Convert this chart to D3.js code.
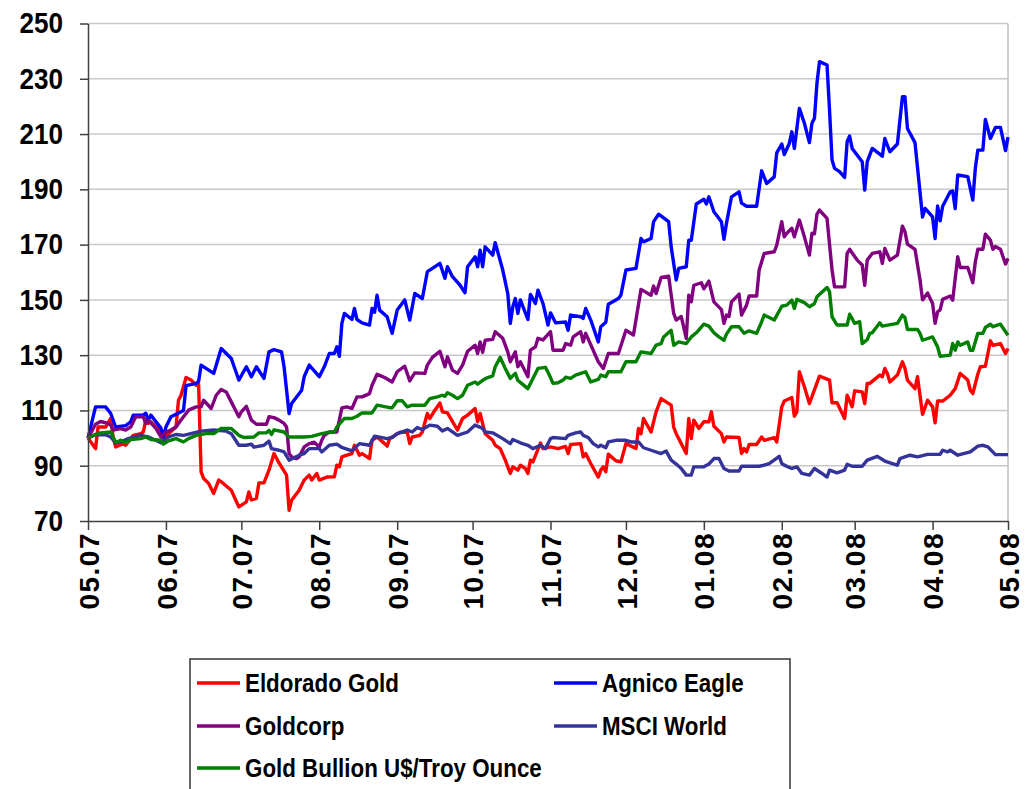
<!DOCTYPE html>
<html>
<head>
<meta charset="utf-8">
<style>
body { margin: 0; background: #fff; }
svg { display: block; font-family: "Liberation Sans", Arial, sans-serif; font-weight: bold; }
.grid line { stroke: #c8c8c8; stroke-width: 1.5px; }
.axis path, .axis line { stroke: #404040; stroke-width: 1.5px; }
.line { fill: none; stroke-width: 3.4px; stroke-linejoin: round; }
</style>
</head>
<body>
<script src="https://d3js.org/d3.v7.min.js"></script>
<script>

// series: [days since 01.05.2007, index value]
var eldoradoGold = [[0,100],[3,96.2],[4,104],[7,104],[9,107.1],[10,100.4],[11,96.8],[14,98],[15,97.4],[18,101],[21,101.6],[22,102.2],[23,106.5],[24,105.3],[25,105.9],[27,104],[29,102.2],[30,99.8],[32,101.6],[35,104],[36,113.7],[37,115.5],[39,121.9],[41,121],[43,119.1],[44,119.6],[45,87.8],[46,85.4],[48,83.6],[50,80],[52,84.8],[53,84.2],[57,81.1],[60,75.1],[63,76.9],[64,80.5],[65,77.6],[67,78.2],[68,83.8],[70,83.8],[72,88.4],[74,94.4],[76,91],[79,86.6],[80,73.9],[81,77.5],[84,81.1],[86,84.8],[88,86.6],[89,84.8],[91,87.2],[92,84.8],[95,85.9],[98,86],[99,90.2],[100,89.6],[101,93.2],[103,93.8],[105,94.4],[106,97.4],[108,93.8],[109,94.4],[112,92.6],[113,99.2],[115,100.4],[118,98],[119,97.1],[120,99.8],[122,101],[124,102],[127,102.2],[128,98],[129,100.4],[132,101],[133,102.2],[135,108.9],[136,107.1],[138,110.1],[140,112.7],[141,109.5],[143,109.1],[147,102.9],[149,107.1],[151,108.3],[154,110.7],[155,105.9],[156,108.9],[158,101.6],[161,99.2],[162,97.4],[164,96.2],[166,92],[168,87.2],[169,89.6],[171,88.4],[172,90.2],[174,89],[175,87.2],[176,92],[177,91.4],[180,98.2],[181,96.2],[184,96.8],[187,96.2],[190,97],[191,94.4],[192,97.7],[196,98],[197,93.2],[198,94.4],[200,90.8],[203,85.9],[204,88.4],[205,89.6],[206,87.8],[207,94.2],[210,91.8],[212,91.4],[214,98],[218,96.2],[219,103.5],[220,101.6],[221,107.1],[224,102.2],[226,109.5],[228,114.3],[232,111.9],[233,104],[234,101.6],[235,99.8],[238,94.4],[239,107.1],[240,99.8],[241,106.5],[243,103.5],[245,105.9],[247,105.9],[248,109.5],[249,104.3],[252,101.6],[253,98.6],[254,100.4],[259,100.2],[260,94.4],[261,96.2],[262,95],[263,97.7],[266,97.7],[268,100.4],[269,99.2],[273,100.2],[274,98.6],[276,111.3],[277,113.4],[280,114.7],[281,107.9],[282,109.5],[283,124],[285,118.6],[287,112.5],[291,122.4],[295,121],[296,112.8],[298,112.8],[301,107.1],[302,115.5],[304,111.3],[305,117.1],[308,116.7],[309,112.5],[310,119.8],[311,119.8],[315,122.8],[316,122.2],[317,125.2],[318,123.4],[319,120.3],[322,122.8],[324,127.6],[325,125.2],[326,121],[329,117.9],[330,122.2],[332,108.6],[334,113.7],[336,111.3],[337,105.5],[338,113.4],[340,113.4],[343,115.5],[345,117.9],[347,123.4],[350,121],[351,117.3],[352,116.1],[354,123.2],[355,125.8],[357,126],[359,135.2],[360,133.6],[363,134.2],[365,130.6],[366,132.4]];

var agnicoEagle = [[0,100],[3,111.3],[7,111.3],[9,109],[11,104],[15,104.5],[17,105.9],[18,108.3],[22,108.3],[23,109],[24,106.5],[25,108.3],[29,103.6],[30,100.4],[31,104],[33,107.7],[37,109.5],[38,110],[39,119],[43,119.8],[44,120.5],[45,126.4],[50,123.4],[53,132.4],[57,128.8],[60,121],[63,125.8],[65,122.2],[67,125.8],[70,121.6],[72,131.2],[74,132],[77,131.2],[78,125.8],[80,108.9],[81,112.5],[85,117.3],[86,122.2],[88,126.4],[92,122.2],[94,125.8],[96,130.6],[98,130.6],[99,133],[100,129.6],[101,141.5],[102,145.1],[105,142.9],[106,146.9],[107,142.9],[109,141.7],[112,140.9],[113,146.9],[114,145.5],[115,151.7],[116,146.3],[119,143.9],[121,137.9],[123,146.3],[126,150],[128,142.7],[130,152.3],[133,150.5],[135,160.2],[137,161.4],[140,163.2],[142,157.8],[143,162],[145,158.4],[148,155.3],[150,152.6],[151,162],[154,165.6],[155,162],[156,168],[157,162],[158,169.2],[161,166.2],[162,170.7],[165,160.8],[167,152.3],[168,141.5],[169,147.5],[170,150.5],[171,145.1],[172,150],[175,142.9],[176,152],[178,148.7],[179,153.5],[181,148.7],[183,140.9],[184,145.3],[186,141.7],[190,142],[191,139],[192,144.5],[196,143.9],[197,143.3],[198,146.9],[200,142.7],[203,134.8],[204,140.3],[206,141.9],[207,148.4],[211,150.5],[212,151.7],[214,160.8],[218,161.4],[220,172.2],[221,171],[224,172.2],[225,178.3],[227,181],[231,178.3],[232,169.2],[234,157.2],[235,161.4],[238,162],[239,171.6],[240,171.6],[242,184.7],[245,186.4],[246,184.7],[247,187.3],[249,181.9],[252,178.3],[253,171.9],[254,177.7],[256,187.3],[259,189.1],[260,185],[262,183.9],[266,183.9],[268,196.7],[270,192.1],[273,194.5],[274,203.2],[276,206.4],[277,202.6],[279,206.6],[280,210.8],[281,204.8],[283,219.3],[285,213.9],[287,206.9],[288,213.9],[289,215.7],[290,228.4],[291,236.2],[294,235],[295,218.7],[296,200.6],[297,197.6],[299,196.4],[301,194.3],[302,207.2],[303,209.3],[304,204.8],[308,200],[309,189.7],[310,200],[312,204.8],[316,202],[317,208.4],[319,203.6],[322,206.4],[324,223.5],[325,223.5],[326,212],[329,206.9],[332,180],[333,183.1],[336,180],[337,172.2],[338,184],[339,178.6],[340,183.9],[343,189.1],[344,189.4],[345,183],[346,195.2],[350,194.6],[352,186.1],[353,197.6],[354,204.2],[356,204.2],[357,215.3],[359,208.4],[361,212.4],[363,212.4],[365,204],[366,208.9]];

var goldcorp = [[0,100],[3,105],[5,106],[8,105.3],[9,104.7],[10,102.9],[13,103.4],[15,102.9],[17,104],[19,107.7],[22,107.7],[23,105.3],[24,106.5],[27,103.5],[29,100.4],[31,102.2],[33,102.9],[35,104],[37,106.5],[40,110.1],[43,111.3],[45,111.3],[46,113.7],[49,110.7],[51,115.5],[53,117.6],[55,116.7],[57,113.1],[60,107.7],[61,109.5],[63,111.5],[65,106.5],[67,105],[71,105],[72,107.7],[74,107.4],[76,106.5],[78,105.3],[79,104],[80,94.4],[81,93.2],[83,92.6],[84,93.2],[86,96.8],[88,98],[90,98.5],[92,96.8],[93,99.2],[94,101],[96,102.2],[99,102.2],[101,110.9],[103,111.3],[105,110.7],[107,114.9],[109,114.9],[112,116.1],[113,119.1],[115,123.1],[116,122.7],[118,121.9],[121,120.3],[123,124],[126,126],[128,120.7],[130,123.6],[134,123.4],[135,126.4],[137,129.2],[140,131.4],[142,125.8],[143,129.4],[145,124.6],[147,123.4],[149,126.4],[151,131.4],[154,133.6],[155,130.6],[156,134.8],[157,131],[158,135.4],[161,135.7],[162,138.5],[165,136.1],[167,131.2],[168,127.6],[170,131.2],[171,125.8],[172,127.6],[175,122.2],[176,131.8],[178,133],[179,136.1],[181,135.5],[184,138.5],[185,131.8],[189,131.8],[190,134.2],[192,133.6],[193,136.6],[196,138.5],[197,134.8],[198,137.9],[203,127.6],[205,125.2],[207,130.6],[211,130.6],[214,139],[217,137.3],[220,153.8],[224,151.7],[225,155],[226,152.3],[228,158.1],[231,158.6],[233,145.1],[234,142.7],[236,144],[238,136.1],[239,151.7],[240,149.3],[241,155.3],[244,156.2],[245,154],[247,156.8],[249,149.3],[252,146.5],[253,141.5],[254,144.5],[255,144],[256,149.3],[259,152.1],[260,144.5],[262,148.1],[263,151.4],[266,151.4],[267,160.8],[269,166.8],[273,167.4],[274,169.8],[276,178.3],[277,172.8],[278,174.1],[280,175.9],[281,172.8],[283,178.9],[285,172.8],[287,166.2],[288,174.1],[289,173.9],[290,181],[291,182.5],[294,179.5],[296,160.8],[297,154.7],[301,154.7],[302,166.8],[303,168.3],[306,164.4],[308,162.6],[309,155.3],[310,164.4],[312,166.8],[315,167.4],[316,163.2],[317,168.6],[319,164.4],[322,166.2],[324,176.7],[325,174.7],[326,170.2],[329,168.3],[331,157.2],[332,150],[334,152.5],[336,148.7],[337,141.5],[338,145.7],[339,146.4],[340,150.2],[343,151.4],[344,149.9],[346,165.6],[347,161.7],[350,161.7],[352,156.2],[353,163.8],[354,168.3],[356,168.3],[357,173.8],[359,171.6],[360,168.3],[361,169.3],[363,168.3],[365,163],[366,165]];

var msciWorld = [[0,100],[3,101.3],[7,101.2],[9,100.4],[11,98.3],[13,98.6],[16,99.8],[21,101],[24,100.4],[27,99.2],[29,98.3],[32,100.4],[35,101.3],[38,101],[45,102.5],[50,102.9],[55,102.5],[57,101.6],[60,97.4],[63,97.4],[65,97.8],[66,96.7],[70,97.4],[72,98.9],[73,96.2],[76,95.6],[78,95],[80,92],[84,93.8],[86,94.4],[88,96.2],[92,96.2],[93,95],[96,97.4],[99,97.8],[101,96.6],[105,95.4],[108,98],[112,97.4],[114,100.7],[119,99.8],[121,100.2],[123,101.6],[127,102.9],[129,102.2],[131,103.8],[133,103.1],[136,104.7],[139,104.3],[141,102.6],[143,103.5],[147,101],[151,102.2],[154,104.7],[157,103.5],[158,102.2],[161,101.9],[165,99.8],[168,98],[169,99.5],[172,98.3],[175,97.4],[177,96.2],[180,97.4],[182,96.2],[184,99.8],[185,100.2],[190,99.8],[191,101],[194,101.9],[196,102.2],[197,101],[199,100.2],[201,98],[203,96.8],[204,97.4],[206,96.5],[207,98.6],[210,99.2],[214,99.2],[216,98.6],[219,98.6],[221,96.5],[224,95.6],[228,94.4],[230,95.3],[232,92],[234,90.6],[236,89],[238,86.6],[240,86.6],[241,89.6],[245,89.6],[247,90.6],[249,92.6],[251,92.6],[253,89],[255,88.1],[259,88.1],[260,89.8],[267,89.8],[269,90.2],[271,90.8],[275,93.4],[276,90.8],[277,90.2],[280,89],[282,89.6],[284,87.2],[287,86.6],[289,89],[292,87.2],[294,85.9],[295,88.4],[298,87.4],[301,88.4],[302,90.5],[304,89.8],[308,89.8],[310,92],[314,93.4],[317,91.7],[320,90.8],[322,90.2],[323,92.6],[327,93.8],[330,93.2],[334,94.1],[339,94.1],[340,95.6],[342,95],[343,95.6],[346,93.8],[351,95],[354,97.1],[356,97.4],[358,96.8],[361,94],[366,94]];

var goldBullion = [[0,100],[3,101.3],[5,101.9],[9,102.2],[11,98.5],[13,99.2],[15,98.3],[17,99.5],[21,99.8],[23,100.4],[25,99.5],[29,99.2],[30,97.8],[32,99],[35,99.8],[38,98.6],[40,99.8],[43,101],[47,101.6],[50,101.6],[53,103.5],[57,103.5],[60,101],[62,100.2],[66,100.4],[68,101.9],[71,101.9],[72,102.8],[73,101.3],[74,103],[78,102.2],[80,100.4],[86,100.4],[89,100.6],[93,101.6],[95,102],[98,102.2],[99,104],[102,107.1],[105,107.1],[107,107.9],[109,109.1],[113,109.1],[115,111.9],[120,111],[121,111],[123,113.5],[125,113.5],[127,111.3],[129,111.9],[134,111.9],[136,114.3],[139,114.9],[141,115.5],[142,115.1],[143,116.4],[145,115.5],[147,114.3],[149,115.5],[151,119.1],[154,120.3],[155,119.5],[157,120.9],[159,121.9],[161,122.5],[162,125.8],[164,129.2],[166,125.2],[168,121.6],[170,123.4],[171,120.9],[175,117.9],[177,121.6],[179,125.2],[182,125.6],[184,121.9],[185,119.8],[187,120],[189,121],[190,122],[192,121.6],[194,122.8],[196,123.4],[198,124],[200,120.3],[203,121.2],[204,122.8],[206,122.2],[207,124],[212,124],[214,127.6],[218,127.6],[220,131.2],[224,130.6],[226,133.6],[228,134.2],[229,136.6],[232,139],[233,133.6],[235,134.8],[238,134.2],[240,136.6],[242,138.1],[245,141.2],[247,140.5],[249,138.1],[251,136.6],[253,135.4],[254,137.6],[256,140.3],[259,140.3],[261,137.9],[263,138.8],[266,137.9],[268,142.1],[269,144.5],[273,142.7],[276,147.7],[278,148.1],[280,149.9],[281,146.9],[282,150.2],[285,149],[287,147.5],[289,148.7],[290,151.1],[294,154.5],[295,153],[296,143.9],[298,140.9],[302,140.9],[303,144.8],[305,141.5],[307,142.1],[308,134.2],[310,135.6],[311,137.9],[312,138.1],[315,141.7],[316,140.5],[322,141.5],[324,144.5],[325,143.6],[326,139.3],[330,139.3],[331,137.9],[332,135.4],[336,136.6],[338,133],[339,129.6],[343,130],[344,134.2],[345,131.8],[346,134.8],[347,133.6],[350,134.8],[351,131.8],[352,131.8],[354,137.9],[356,137.9],[357,140],[359,141.2],[360,140.3],[363,141.2],[366,137.2]];

var seriesNames = ["Eldorado Gold", "Agnico Eagle", "Goldcorp", "MSCI World", "Gold Bullion U$/Troy Ounce"];
var seriesData = [eldoradoGold, agnicoEagle, goldcorp, msciWorld, goldBullion];
var seriesColors = ["#ff0000", "#0000ff", "#800080", "#333399", "#008000"];
var yTicks = [70, 90, 110, 130, 150, 170, 190, 210, 230, 250];

var startDate = new Date(2007, 4, 1),
    endDate = new Date(2008, 4, 1);

var width = 1028, height = 789;
var plot = {left: 88, right: 1008, top: 23.5, bottom: 521};

var svg = d3.select("body").append("svg")
    .attr("width", width)
    .attr("height", height);

var x = d3.scaleTime().domain([startDate, endDate]).range([plot.left, plot.right]);
var y = d3.scaleLinear().domain([70, 250]).range([plot.bottom, plot.top]);

// gridlines
svg.append("g").attr("class", "grid")
  .selectAll("line")
  .data(yTicks.slice(1))
  .enter().append("line")
    .attr("x1", plot.left).attr("x2", plot.right)
    .attr("y1", function(d) { return y(d); })
    .attr("y2", function(d) { return y(d); });

// right border of plot area
svg.append("line")
    .attr("x1", plot.right).attr("x2", plot.right)
    .attr("y1", plot.top).attr("y2", plot.bottom)
    .style("stroke", "#c0c0c0").style("stroke-width", 1.5);

// lines
var line = d3.line()
    .x(function(d) { return x(d3.timeDay.offset(startDate, d[0])); })
    .y(function(d) { return y(d[1]); });

svg.append("g").selectAll("path")
  .data(seriesData)
  .enter().append("path")
    .attr("class", "line")
    .style("stroke", function(d, i) { return seriesColors[i]; })
    .attr("d", line);

// y axis
var yAxis = svg.append("g")
    .attr("class", "axis")
    .attr("transform", "translate(" + plot.left + ",0)")
    .call(d3.axisLeft(y).tickValues(yTicks).tickSize(8).tickSizeOuter(0));
yAxis.selectAll("text")
    .attr("x", null)
    .attr("transform", "translate(-25,0) scale(0.9,1)")
    .style("font-size", "29px")
    .style("font-weight", "bold")
    .style("font-family", "'Liberation Sans', Arial, sans-serif")
    .attr("fill", "#000");

// x axis
var xAxis = svg.append("g")
    .attr("class", "axis")
    .attr("transform", "translate(0," + plot.bottom + ")")
    .call(d3.axisBottom(x)
      .ticks(d3.timeMonth.every(1))
      .tickFormat(d3.timeFormat("%m.%y"))
      .tickSize(9).tickSizeOuter(0));
xAxis.selectAll("text")
    .attr("transform", "rotate(-90)")
    .attr("text-anchor", "end")
    .attr("x", -11)
    .attr("y", 0)
    .attr("dy", "0.36em")
    .style("font-size", "28px")
    .style("letter-spacing", "1.5px")
    .style("font-weight", "bold")
    .style("font-family", "'Liberation Sans', Arial, sans-serif")
    .attr("fill", "#000");

// legend
var legend = svg.append("g");
legend.append("rect")
    .attr("x", 190).attr("y", 659)
    .attr("width", 600).attr("height", 160)
    .style("fill", "#fff").style("stroke", "#333").style("stroke-width", 1.5);

var legendCols = [197, 554],
    legendRows = [683, 726, 768];

var item = legend.selectAll(".item")
  .data(seriesNames)
  .enter().append("g")
    .attr("transform", function(d, i) {
      return "translate(" + legendCols[i % 2] + "," + legendRows[Math.floor(i / 2)] + ")";
    });

item.append("line")
    .attr("x1", 0).attr("x2", 43)
    .style("stroke", function(d, i) { return seriesColors[i]; })
    .style("stroke-width", 3.5);

item.append("text")
    .attr("transform", "translate(48,0) scale(0.86,1)")
    .attr("dy", "0.35em")
    .style("font-size", "26px")
    .text(function(d) { return d; });

</script>
</body>
</html>
